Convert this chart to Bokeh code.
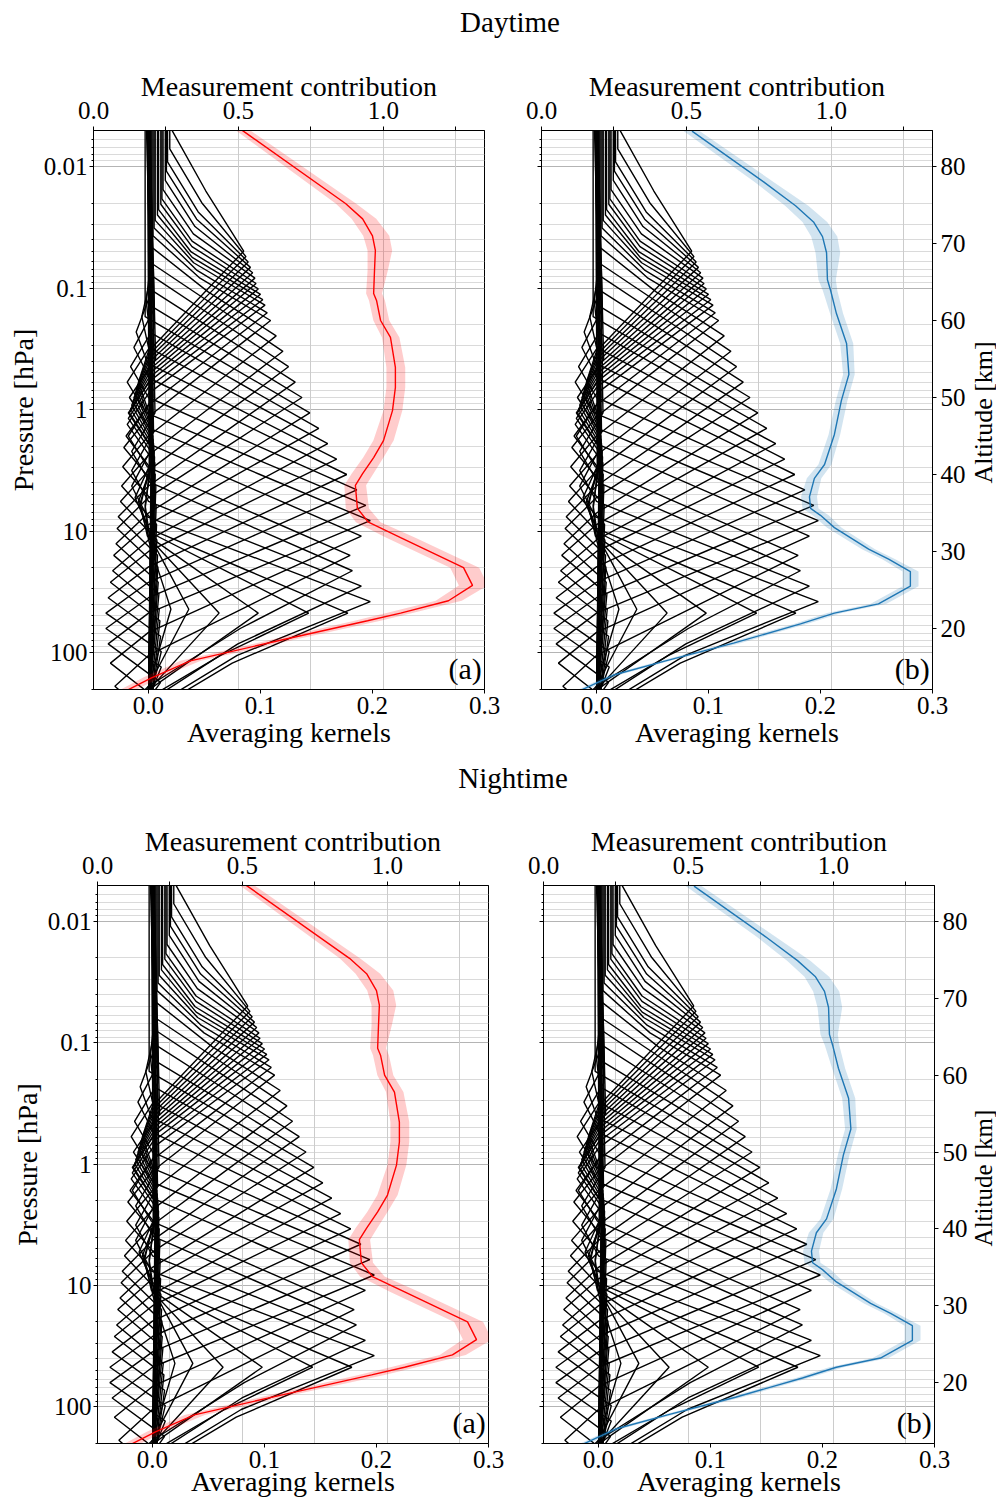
import math
from bokeh.plotting import figure
from bokeh.models import (Range1d, LinearScale, LinearAxis, FixedTicker,
                          CustomJSTickFormatter, Grid)
from bokeh.core.properties import value
from bokeh.layouts import column, row
from bokeh.embed import file_html
from bokeh.resources import INLINE

FONT = "Liberation Serif"

# ---------------- data ----------------
TITLES = ["Daytime", "Nightime"]
PANEL_TAGS = ["(a)", "(b)"]
P_TICKS = [0.01, 0.1, 1, 10, 100]
ALT_TICKS = [20, 30, 40, 50, 60, 70, 80]
AK_TICKS = [0.0, 0.1, 0.2, 0.3]
MC_TICKS = [0.0, 0.25, 0.5, 0.75, 1.0, 1.25]

# averaging kernels: one entry per retrieval level (km)
K_NOM = [12, 14, 16, 18, 20, 22, 24, 26, 28, 30, 32, 34, 36, 38, 40, 42, 44, 46, 48,
         50, 52, 54, 56, 58, 60, 62, 64, 66, 68, 70, 72, 74, 76, 78, 80, 82, 84]
K_ZP = [22.5, 22.5, 22, 22, 22, 22, 23.5, 25.5, 27.5, 29.5, 32, 34, 36, 38, 40, 42, 44, 46, 48,
        50, 52, 54, 56, 58, 60, 61, 62, 62.7, 63.4, 64.1, 64.8, 65.5, 66.2, 66.9, 67.6, 68.3, 69]
K_PEAK = [0.020, 0.036, 0.063, 0.098, 0.143, 0.178, 0.198, 0.190, 0.182, 0.180, 0.190, 0.198,
          0.194, 0.186, 0.177, 0.168, 0.160, 0.152, 0.144, 0.137, 0.131, 0.125, 0.120, 0.114,
          0.109, 0.106, 0.104, 0.102, 0.100, 0.098, 0.096, 0.095, 0.093, 0.091, 0.089, 0.087, 0.085]
K_WL = [10, 10, 10, 10, 11, 13, 14, 15, 15, 13, 12.5, 12, 12, 12, 12, 12, 12.5, 12.5, 13,
        13, 13.5, 13.5, 13.5, 13, 12.5, 12, 11.5, 11.4, 11.4, 11.6, 11.8, 12, 12.2, 12.4,
        12.6, 12.8, 13]
K_KL = [0.5, 0.5, 0.5, 0.5, 0.45, 0.42, 0.40, 0.42, 0.45, 0.5, 0.5, 0.5, 0.5, 0.5, 0.5, 0.5,
        0.5, 0.5, 0.5, 0.5, 0.5, 0.5, 0.5, 0.5, 0.5, 0.5, 0.5, 0.5, 0.5, 0.5, 0.5, 0.5, 0.5,
        0.5, 0.5, 0.5, 0.5]
K_WU = [9, 9.5, 10, 10, 10.5, 11, 11, 11, 11.5, 11.5, 12, 12, 12, 12, 12.5, 12.5, 12.5, 12.5,
        12.5, 12, 12, 12, 11.5, 11.5, 11, 11, 11, 11, 11, 11, 11, 11.5, 12, 12.5, 13, 14, 15.7]
K_KU = [0.5, 0.5, 0.5, 0.5, 0.5, 0.5, 0.5, 0.5, 0.5, 0.5, 0.5, 0.5, 0.5, 0.5, 0.5, 0.5, 0.5,
        0.5, 0.5, 0.5, 0.5, 0.5, 0.5, 0.45, 0.40, 0.38, 0.35, 0.33, 0.32, 0.32, 0.32, 0.33, 0.34,
        0.36, 0.38, 0.42, 0.47]
K_NL = [-0.004, -0.006, -0.008, -0.010, -0.012, -0.015, -0.020, -0.025, -0.028, -0.030, -0.034,
        -0.036, -0.038, -0.038, -0.036, -0.034, -0.032, -0.031, -0.029, -0.028, -0.027, -0.025,
        -0.024, -0.023, -0.022, -0.020, -0.019, -0.018, -0.017, -0.016, -0.015, -0.014, -0.013,
        -0.012, -0.011, -0.010, -0.009]
K_NU = [-0.003, -0.004, -0.006, -0.008, -0.010, -0.012, -0.014, -0.015, -0.016, -0.017, -0.018,
        -0.018, -0.017, -0.016, -0.014, -0.010, -0.006, -0.003, 0, 0, 0, 0, 0, 0, 0, 0, 0, 0,
        0, 0, 0, 0, 0, 0, 0, 0, 0]
K_TOP = [0.000, 0.001, -0.001, 0.000, 0.001, 0.000, -0.001, 0.000, 0.001, -0.001, 0.000, 0.001,
         -0.002, 0.000, 0.001, -0.001, 0.000, 0.001, -0.003, 0.001, 0.002, 0.001, 0.002, 0.003,
         0.004, 0.005, 0.006, 0.008, 0.009, 0.011, 0.012, 0.013, 0.015, 0.016, 0.017, 0.019, 0.021]
K_BOT = [0.004, 0.006, 0.008, 0.010, 0.012, 0.015, 0.020, 0.000, 0.000, 0.000, -0.005, -0.004,
         -0.002, 0.000, 0.002, 0.002, 0.001, 0.000, 0.000, 0.001, 0.000, 0.000, 0.001, 0.000,
         0.000, 0.000, 0.000, 0.000, 0.000, 0.000, 0.000, 0.000, 0.000, 0.000, 0.000, 0.000, 0.000]

# measurement contribution (red = panel a, blue = panel b)
MC_ALT_A = [84.7, 75.2, 73.2, 71.0, 69.1, 66.5, 63.5, 62.6, 60.0, 57.8, 53.9, 51.3, 48.3, 44.4,
            42.2, 40.1, 38.6, 35.6, 33.8, 31.8, 27.9, 25.6, 23.6, 22.0, 21.0, 18.6, 15.8, 13.6, 12.0]
MC_VAL_A = [0.513, 0.869, 0.928, 0.962, 0.972, 0.969, 0.966, 0.976, 0.990, 1.024, 1.041, 1.041,
            1.031, 1.000, 0.966, 0.928, 0.903, 0.910, 0.948, 1.059, 1.276, 1.307, 1.224, 1.059,
            0.945, 0.660, 0.334, 0.200, 0.117]
MC_LO_A = [0.490, 0.835, 0.890, 0.930, 0.945, 0.945, 0.940, 0.950, 0.965, 0.995, 1.010, 1.010,
           1.000, 0.965, 0.930, 0.890, 0.865, 0.870, 0.905, 1.010, 1.230, 1.260, 1.180, 1.010,
           0.900, 0.620, 0.300, 0.170, 0.090]
MC_HI_A = [0.540, 0.905, 0.975, 1.020, 1.030, 1.015, 0.995, 1.005, 1.020, 1.055, 1.075, 1.075,
           1.065, 1.035, 1.000, 0.965, 0.940, 0.950, 0.990, 1.110, 1.330, 1.360, 1.270, 1.100,
           0.990, 0.700, 0.370, 0.230, 0.145]
MC_ALT_B = [84.6, 78.0, 74.9, 72.8, 70.9, 68.8, 65.3, 63.9, 60.9, 57.0, 53.0, 49.6, 45.2, 41.3,
            39.5, 37.1, 35.6, 34.7, 33.1, 30.3, 29.0, 27.4, 25.5, 23.2, 22.0, 20.6, 18.1, 15.8,
            14.0, 11.6]
MC_VAL_B = [0.519, 0.766, 0.876, 0.938, 0.969, 0.983, 0.986, 0.997, 1.017, 1.052, 1.060, 1.034,
            1.010, 0.976, 0.941, 0.924, 0.928, 0.962, 1.010, 1.128, 1.197, 1.272, 1.272, 1.162,
            1.010, 0.893, 0.662, 0.428, 0.252, 0.114]
MC_LO_B = [0.490, 0.735, 0.840, 0.900, 0.930, 0.945, 0.955, 0.970, 0.995, 1.030, 1.040, 1.015,
           0.990, 0.955, 0.915, 0.895, 0.900, 0.935, 0.985, 1.105, 1.175, 1.245, 1.245, 1.135,
           0.985, 0.870, 0.640, 0.410, 0.235, 0.100]
MC_HI_B = [0.545, 0.800, 0.920, 0.985, 1.020, 1.030, 1.015, 1.020, 1.040, 1.075, 1.080, 1.055,
           1.030, 1.000, 0.965, 0.950, 0.955, 0.990, 1.035, 1.150, 1.220, 1.300, 1.300, 1.190,
           1.035, 0.915, 0.685, 0.445, 0.270, 0.130]

RED = "#ff0000"
BLUE = "#1f77b4"

# axis ranges
AK_RANGE = (-0.0491, 0.3)
MC_RANGE = (0.0, 1.3483)
P_RANGE = (201.6, 0.005054)
ALT_RANGE = (12.078, 84.675)


def kernel_lines():
    xs, ys = [], []
    for i in range(len(K_NOM)):
        zp, a, wl, kl, wu, ku = K_ZP[i], K_PEAK[i], K_WL[i], K_KL[i], K_WU[i], K_KU[i]
        nl, nu, top, bot = K_NL[i], K_NU[i], K_TOP[i], K_BOT[i]
        low = [(zp - wl - 9, -0.3 * nl), (zp - wl - 4, nl), (zp - wl, 0.0), (zp - wl / 2, a * kl)]
        if low[0][0] > 10:
            low.insert(0, (10, bot))
        up = [(zp + wu / 2, top + ku * (a - top)), (zp + wu, top),
              (zp + wu + 4, top + nu), (zp + wu + 9, top - 0.3 * nu)]
        pts = low + [(zp, a)] + up
        if pts[-1][0] < 86:
            pts.append((86, top))
        ys.append([q[0] for q in pts])
        xs.append([q[1] for q in pts])
    return xs, ys


minor = []
for e in range(-3, 3):
    for m in range(2, 10):
        minor.append(m * 10 ** e)


def style_axis(ax, label, label_standoff, tick_standoff):
    ax.major_tick_out = 4
    ax.major_tick_in = 0
    ax.major_label_standoff = tick_standoff
    ax.major_label_text_font = FONT
    ax.major_label_text_font_size = "25px"
    ax.major_label_text_color = "black"
    ax.axis_line_color = "black"
    if label:
        ax.axis_label = label
        ax.axis_label_text_font = FONT
        ax.axis_label_text_font_size = "28px"
        ax.axis_label_text_font_style = "normal"
        ax.axis_label_text_color = "black"
        ax.axis_label_standoff = label_standoff


def make_panel(kind, fl, fr, ft, fb, fh, bottom_standoff):
    p = figure(frame_width=391, frame_height=fh,
               min_border_left=fl, min_border_right=fr, min_border_top=ft, min_border_bottom=fb,
               x_range=Range1d(*AK_RANGE), y_range=Range1d(*P_RANGE), y_axis_type="log",
               output_backend="svg", toolbar_location=None, title=None,
               background_fill_color="white", border_fill_color="white")
    p.extra_x_ranges = {"mc": Range1d(*MC_RANGE)}
    p.extra_y_ranges = {"alt": Range1d(*ALT_RANGE)}
    p.extra_y_scales = {"alt": LinearScale()}
    p.outline_line_color = "black"
    p.outline_line_width = 1
    p.outline_line_alpha = 1

    # pressure axis
    pt = FixedTicker(ticks=P_TICKS, minor_ticks=minor)
    ya = p.yaxis[0]
    ya.ticker = pt
    if kind == "a":
        ya.formatter = CustomJSTickFormatter(code="return tick.toString();")
        style_axis(ya, "Pressure [hPa]", 2, 2)
    else:
        ya.formatter = CustomJSTickFormatter(code="return '';")
        style_axis(ya, None, 0, 0)
    ya.minor_tick_out = 2
    ya.minor_tick_in = 0
    p.ygrid.ticker = pt
    p.ygrid.grid_line_color = "#b4b4b4"
    p.ygrid.minor_grid_line_color = "#dadada"

    # kernel axis (bottom)
    xa = p.xaxis[0]
    xa.ticker = FixedTicker(ticks=AK_TICKS)
    xa.formatter = CustomJSTickFormatter(code="return tick.toFixed(1);")
    style_axis(xa, "Averaging kernels", bottom_standoff, 3)
    xa.minor_tick_out = 0
    p.xgrid.visible = False

    # measurement contribution axis (top)
    mt = FixedTicker(ticks=MC_TICKS)
    ta = LinearAxis(x_range_name="mc", ticker=mt,
                    formatter=CustomJSTickFormatter(
                        code="return (Math.abs(tick*2 - Math.round(tick*2)) < 1e-6) ? tick.toFixed(1) : '';"))
    style_axis(ta, "Measurement contribution", -3, 8)
    p.add_layout(ta, "above")
    p.add_layout(Grid(dimension=0, ticker=mt, x_range_name="mc", grid_line_color="#cccccc"))

    if kind == "b":
        ra = LinearAxis(y_range_name="alt", ticker=FixedTicker(ticks=ALT_TICKS))
        style_axis(ra, None, 0, 4)
        p.add_layout(ra, "right")

    # kernels
    kx, ky = kernel_lines()
    p.multi_line(xs=kx, ys=ky, y_range_name="alt", line_color="black", line_width=1.4)

    # measurement contribution
    if kind == "a":
        alt, val, lo, hi, col = MC_ALT_A, MC_VAL_A, MC_LO_A, MC_HI_A, RED
    else:
        alt, val, lo, hi, col = MC_ALT_B, MC_VAL_B, MC_LO_B, MC_HI_B, BLUE
    p.harea(x1=lo, x2=hi, y=alt, x_range_name="mc", y_range_name="alt",
            fill_color=col, fill_alpha=0.2)
    p.line(x=val, y=alt, x_range_name="mc", y_range_name="alt", line_color=col, line_width=1.4)

    tag = PANEL_TAGS[0] if kind == "a" else PANEL_TAGS[1]
    p.text(x=[0.2975], y=[14.8], text=[tag], y_range_name="alt", text_align="right",
           text_baseline="middle", text_font=value(FONT), text_font_size="30px",
           text_color="black")
    return p


def text_fig(text, w, h, cx, cy_from_top, angle, size):
    t = figure(width=w, height=h, x_range=Range1d(0, w), y_range=Range1d(h, 0),
               min_border=0, x_axis_location=None, y_axis_location=None, title=None,
               output_backend="svg", toolbar_location=None,
               background_fill_color="white", border_fill_color="white")
    t.outline_line_color = None
    t.grid.visible = False
    t.text(x=[cx], y=[cy_from_top], text=[text], text_align="center", angle=angle,
           text_baseline="middle", text_font=value(FONT),
           text_font_size=size, text_color="black")
    return t


pa = make_panel("a", 93, 36, 77, 71, 559, 0)
pb = make_panel("b", 21, 34, 77, 71, 559, 0)
pc = make_panel("a", 97, 34, 85, 55, 558, -5)
pd = make_panel("b", 21, 35, 85, 55, 558, -5)

# rotated axis titles for the altitude axes (reading bottom-to-top)
alt_lab1 = text_fig("Altitude [km]", 29, 707, 15, 77 + 279.5, math.pi / 2, "26px")
alt_lab2 = text_fig("Altitude [km]", 26, 718, 13, 85 + 279, math.pi / 2, "25px")

layout = column(
    text_fig(TITLES[0], 995, 53, 509.5, 21, 0, "29px"),
    row(pa, pb, alt_lab1),
    text_fig(TITLES[1], 995, 40, 512.5, 17, 0, "29px"),
    row(pc, pd, alt_lab2),
)

open("out.html", "w").write(file_html(layout, INLINE))
